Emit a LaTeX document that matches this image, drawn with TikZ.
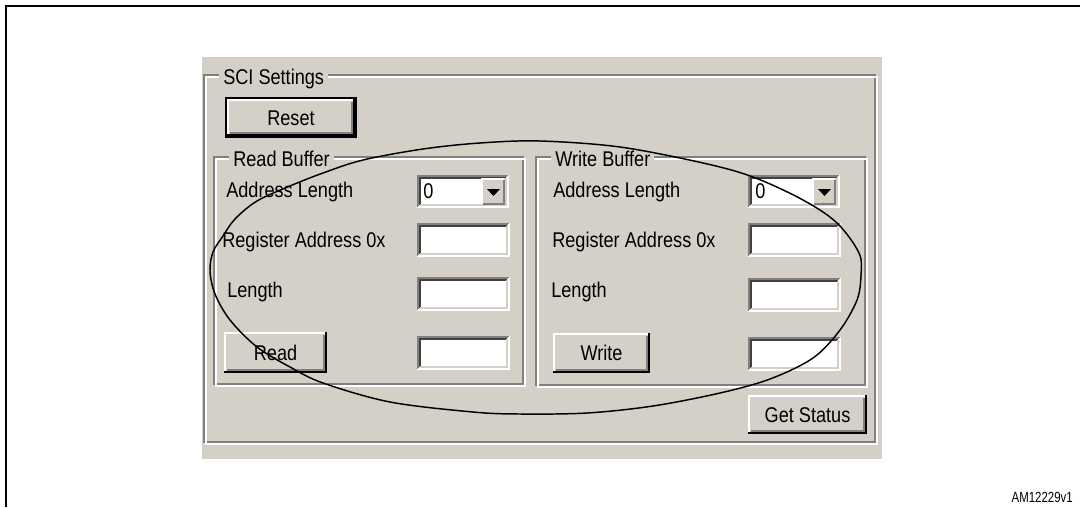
\documentclass[tikz,border=0pt]{standalone}
\usepackage{fontspec}
\setmainfont{Liberation Sans}
\newfontfamily\uifont[FakeStretch=0.85]{Liberation Sans}
\newfontfamily\tagfont[FakeStretch=0.78]{Liberation Sans}
\definecolor{uigray}{HTML}{D4D0C8}
\definecolor{uishadow}{HTML}{808080}
\definecolor{uidarkest}{HTML}{404040}
\tikzset{
  uitext/.style={font=\uifont\fontsize{16}{18}\selectfont, inner sep=0pt, text height=11.5pt, text depth=0pt},
  labeltext/.style={uitext, anchor=west},
  grouplabel/.style={uitext, fill=uigray, inner xsep=3pt, inner ysep=2pt, anchor=west},
  tagtext/.style={font=\tagfont\fontsize{11}{13}\selectfont, inner sep=0pt, text height=7.9pt, text depth=0pt, anchor=east},
  bevel/.style={line width=1.5pt},
  etch/.style={line width=1.1pt},
  frameline/.style={line width=1.5pt, black},
  ringline/.style={line width=1.1pt, black}
}
% raised push button: name, x1, y1, x2, y2, text
\newcommand{\uibtn}[6]{%
  \fill[uigray] (#2,#3) rectangle (#4,#5);
  \draw[white,bevel] (#2+1,#5-2) -- (#2+1,#3+1) -- (#4-2,#3+1);
  \draw[uishadow,bevel] (#2+3,#5-3) -- (#4-3,#5-3) -- (#4-3,#3+3);
  \draw[black,bevel] (#2,#5-1) -- (#4-1,#5-1) -- (#4-1,#3);
  \node[uitext] (#1) at ({(#2+#4)/2},{(#3+#5)/2}) {#6};}
% sunken text box: name, x1, y1, x2, y2
\newcommand{\uibox}[5]{%
  \fill[white] (#2,#3) rectangle (#4,#5);
  \draw[uishadow,bevel] (#2+1,#5-1) -- (#2+1,#3+1) -- (#4-1,#3+1);
  \draw[uidarkest,bevel] (#2+3,#5-3) -- (#2+3,#3+3) -- (#4-3,#3+3);
  \draw[white,bevel] (#2+1,#5-1) -- (#4-1,#5-1) -- (#4-1,#3+1);
  \draw[uigray,bevel] (#2+3,#5-3) -- (#4-3,#5-3) -- (#4-3,#3+3);
  \coordinate (#1) at ({(#2+#4)/2},{(#3+#5)/2});}
% drop-down arrow button: name, x1, y1, x2, y2
\newcommand{\uiarrow}[5]{%
  \fill[uigray] (#2,#3) rectangle (#4,#5);
  \draw[white,bevel] (#2+1,#5-2) -- (#2+1,#3+1) -- (#4-2,#3+1);
  \draw[uishadow,bevel] (#2+2,#5-2) -- (#4-2,#5-2) -- (#4-2,#3+2);
  \coordinate (#1) at ({(#2+#4)/2},{(#3+#5)/2});
  \fill[black] ($(#1)+(-6.5,-3)$) -- ($(#1)+(6.5,-3)$) -- ($(#1)+(0,4)$) -- cycle;}
% etched group box: name, x1, y1, x2, y2, label
\newcommand{\uigroup}[6]{%
  \draw[uishadow,etch] (#2,#3) rectangle (#4,#5);
  \draw[white,etch] (#2+2,#3+2) rectangle (#4+2,#5+2);
  \node[grouplabel] (#1) at (#2+15,#3+2) {#6};}
\usetikzlibrary{calc}
\begin{document}
\begin{tikzpicture}[x=0.75pt,y=-0.75pt]
\useasboundingbox (0,0) rectangle (1080,507);
\fill[white] (0,0) rectangle (1080,507);
% outer figure frame
\coordinate (fbl) at (6,507);
\coordinate (ftl) at (6,6);
\coordinate (ftr) at (1080,6);
\draw[frameline] (fbl) -- (ftl) -- (ftr);
% dialog panel
\fill[uigray] (202,57) rectangle (882,459);
\uigroup{sci}{204}{75}{875}{442}{SCI Settings}
% Reset (default button with black frame)
\uibtn{reset}{227}{99}{355}{136}{Reset}
\draw[black,line width=1.1pt] (226,98) rectangle (356,137);
% Read buffer
\uigroup{rbuf}{214}{157}{523}{384}{Read Buffer}
\node[labeltext] (ral) at (226,190) {Address Length};
\node[labeltext] (rra) at (222,240) {Register Address 0x};
\node[labeltext] (rln) at (227,290) {Length};
\uibox{rdd}{417}{175}{509}{208}
\node[labeltext] (rdd0) at (423,191) {0};
\uiarrow{rdda}{481}{178}{506}{206}
\uibox{rrab}{417}{223}{510}{257}
\uibox{rlnb}{417}{277}{510}{311}
\uibox{routb}{417}{336}{510}{370}
\uibtn{readbtn}{224}{332}{327}{373}{Read}
% Write buffer
\uigroup{wbuf}{536}{157}{865}{385}{Write Buffer}
\node[labeltext] (wal) at (553,190) {Address Length};
\node[labeltext] (wra) at (552,240) {Register Address 0x};
\node[labeltext] (wln) at (551,290) {Length};
\uibox{wdd}{748}{175}{840}{208}
\node[labeltext] (wdd0) at (755,191) {0};
\uiarrow{wdda}{812}{178}{837}{206}
\uibox{wrab}{748}{223}{841}{257}
\uibox{wlnb}{748}{278}{841}{312}
\uibox{woutb}{748}{337}{841}{371}
\uibtn{writebtn}{553}{333}{650}{373}{Write}
% Get Status
\uibtn{getstatus}{748}{395}{867}{434}{Get Status}
% hand-drawn ellipse
\draw[ringline] plot[smooth cycle, tension=0.55] coordinates {
 (540,141) (620,147) (703,163) (753,177) (803,200) (837,223) (859,253)
 (861,275) (857,300) (840,330) (813,358) (770,379) (720,393) (653,406) (587,413)
 (520,414) (473,412) (390,402) (323,383) (290,367) (257,347) (230,320) (215,294)
 (210,271) (213,252) (223,236) (235,219) (257,201) (290,186) (323,173) (363,160)
 (423,149) (480,143)};
\node[tagtext] (tag) at (1073,497) {AM12229v1};
\end{tikzpicture}
\end{document}
